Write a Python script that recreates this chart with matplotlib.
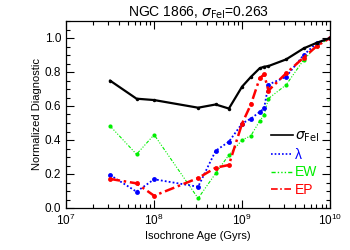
import matplotlib
matplotlib.use("Agg")
import matplotlib.pyplot as plt
from matplotlib.lines import Line2D
from matplotlib.ticker import MultipleLocator, LogLocator, NullFormatter

plt.rcParams['font.family'] = ['Liberation Sans', 'DejaVu Sans']
plt.rcParams['mathtext.fontset'] = 'dejavusans'

# isochrone ages (log10 yr)
log_age = [7.5, 7.8, 8.0, 8.5, 8.7, 8.85, 9.0, 9.1, 9.2, 9.25, 9.3, 9.5, 9.7, 9.85, 10.0]
ages = [10 ** a for a in log_age]

sigma_fei = [0.749, 0.643, 0.635, 0.590, 0.609, 0.585, 0.714, 0.771, 0.822, 0.831,
             0.835, 0.874, 0.939, 0.972, 1.0]
lam = [0.194, 0.096, 0.169, 0.125, 0.337, 0.390, 0.497, 0.526, 0.565, 0.586,
       0.726, 0.772, 0.900, 0.971, 1.0]
ew = [0.482, 0.316, 0.431, 0.057, 0.204, 0.312, 0.400, 0.425, 0.512, 0.547,
      0.644, 0.724, 0.871, 0.953, 1.0]
ep = [0.171, 0.145, 0.072, 0.176, 0.237, 0.253, 0.497, 0.609, 0.763, 0.786,
      0.691, 0.792, 0.885, 0.953, 1.0]

GREEN = '#00ee00'
BLUE = '#0000ff'
RED = '#ff0000'
EW_LS = (0, (3, 1.5, 1, 1.5, 1, 1.5, 1, 1.5))
LAM_LS = (0, (1, 1.2))
EP_LS = (0, (4, 1.5, 1, 1.5))

fig = plt.figure(figsize=(3.5, 2.5), dpi=100)
ax = fig.add_axes([0.189, 0.168, 0.754, 0.748])

ax.plot(ages, ew, color=GREEN, lw=0.8, ls=EW_LS, marker='o', ms=3, mec='none')
ax.plot(ages, lam, color=BLUE, lw=1.3, ls=LAM_LS, marker='o', ms=3.5, mec='none')
ax.plot(ages, ep, color=RED, lw=1.8, ls=EP_LS, marker='o', ms=3.5, mec='none')
ax.plot(ages, sigma_fei, color='black', lw=1.6, marker='o', ms=2.5, mec='none')

ax.set_xscale('log')
ax.set_xlim(1e7, 1e10)
ax.set_ylim(0, 1.1)
ax.xaxis.set_major_locator(LogLocator(base=10, numticks=10))
ax.xaxis.set_minor_locator(LogLocator(base=10, subs=range(2, 10), numticks=10))
ax.xaxis.set_minor_formatter(NullFormatter())
ax.yaxis.set_major_locator(MultipleLocator(0.2))
ax.yaxis.set_minor_locator(MultipleLocator(0.05))
ax.yaxis.set_major_formatter(plt.FuncFormatter(lambda v, p: f"{v:.1f}"))
ax.tick_params(which='both', direction='in', top=True, right=True, labelsize=8.5)
ax.tick_params(which='major', length=6, width=0.8)
ax.tick_params(which='minor', length=3, width=0.8)
for s in ax.spines.values():
    s.set_linewidth(0.9)

ax.set_xlabel('Isochrone Age (Gyrs)', fontsize=8, labelpad=2)
ax.set_ylabel('Normalized Diagnostic', fontsize=8, labelpad=2)
ax.set_title(r'NGC 1866, $\sigma_{\rm FeI}$=0.263', fontsize=10, pad=3)

handles = [
    Line2D([], [], color='black', lw=1.2),
    Line2D([], [], color=BLUE, lw=1.2, ls=LAM_LS),
    Line2D([], [], color=GREEN, lw=1.0, ls=EW_LS),
    Line2D([], [], color=RED, lw=1.2, ls=EP_LS),
]
labels = [r'$\sigma_{\rm FeI}$', 'λ', 'EW', 'EP']
ax.legend(handles, labels, loc='lower right', frameon=False, fontsize=10,
          handlelength=1.6, handletextpad=0.1, labelspacing=0.25,
          borderaxespad=0.4, labelcolor='linecolor')

fig.savefig('out.png', dpi=100)
